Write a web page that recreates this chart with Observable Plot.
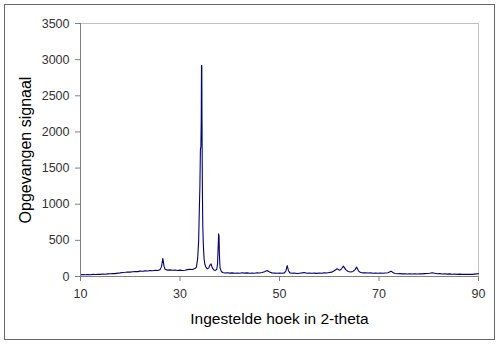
<!DOCTYPE html>
<html>
<head>
<meta charset="utf-8">
<script src="https://cdn.jsdelivr.net/npm/d3@7"></script>
<script src="https://cdn.jsdelivr.net/npm/@observablehq/plot@0.6"></script>
<style>
  html, body { margin: 0; padding: 0; background: #fff; }
  #wrap { position: relative; width: 500px; height: 345px; }
  #border { position: absolute; left: 4px; top: 4px; width: 489px; height: 334px; border: 1px solid #666; pointer-events: none; }
</style>
</head>
<body>
<div id="wrap"><div id="border"></div></div>
<script>
const twoTheta = [
  10.0,10.5,11.0,11.5,12.0,12.5,13.0,13.5,14.0,14.5,15.0,15.5,16.0,16.5,17.0,17.5,18.0,18.5,19.0,19.5,
  20.0,20.5,21.0,21.5,22.0,22.5,23.0,23.5,24.0,24.5,25.0,25.5,26.0,26.3,26.55,26.8,27.0,27.5,28.0,28.5,
  29.0,29.5,30.0,30.5,31.0,31.5,32.0,32.5,33.0,33.3,33.55,33.75,33.85,34.0,34.1,34.2,34.27,34.32,34.38,34.42,
  34.5,34.58,34.7,34.85,35.0,35.2,35.5,35.8,36.0,36.25,36.5,36.8,37.1,37.4,37.55,37.68,37.76,37.84,37.92,38.05,
  38.3,38.6,39.0,39.5,40.0,40.5,41.0,41.5,42.0,42.5,43.0,43.5,44.0,44.5,45.0,45.5,46.0,46.5,47.0,47.5,
  48.0,48.5,49.0,49.5,50.0,50.5,51.0,51.3,51.55,51.8,52.1,52.5,53.0,53.5,54.0,54.5,55.0,55.5,56.0,56.5,
  57.0,57.5,58.0,58.5,59.0,59.5,60.0,60.5,61.0,61.6,62.1,62.5,62.85,63.3,63.8,64.3,64.8,65.2,65.5,65.9,
  66.3,66.8,67.3,67.8,68.3,68.8,69.3,69.8,70.3,70.8,71.3,71.8,72.1,72.4,72.8,73.2,73.7,74.2,74.7,75.2,
  75.7,76.2,76.7,77.2,77.7,78.2,78.7,79.2,79.7,80.2,80.7,81.2,81.7,82.2,82.7,83.2,83.7,84.2,84.7,85.2,
  85.7,86.2,86.7,87.2,87.7,88.2,88.7,89.2,89.6,90.0
];
const signal = [
  22,28,24,27,25,30,27,32,29,34,31,36,38,42,40,47,50,55,58,62,
  60,66,70,67,74,72,78,76,82,80,86,84,95,140,250,140,100,88,92,86,
  90,84,88,82,86,95,100,96,110,130,250,500,820,1250,1750,1800,2160,2920,2920,2150,
  1200,700,420,240,170,130,105,120,155,175,120,90,85,100,180,420,590,560,300,120,
  70,55,48,52,47,50,45,49,46,51,47,50,45,48,46,52,49,55,65,82,
  62,50,47,44,48,45,50,80,152,80,50,44,48,42,46,50,55,46,49,44,
  47,43,48,45,50,48,55,60,80,106,85,110,143,95,70,62,70,95,130,75,
  55,50,52,48,50,46,48,45,47,44,48,52,62,74,55,42,38,40,36,38,
  35,37,34,38,35,37,36,40,42,45,52,45,38,40,35,37,33,36,32,34,
  30,33,30,32,29,31,30,33,36,37
];
const xTicks = [10, 30, 50, 70, 90];
const yTicks = [0, 500, 1000, 1500, 2000, 2500, 3000, 3500];
const xLabel = "Ingestelde hoek in 2-theta";
const yLabel = "Opgevangen signaal";

const data = twoTheta.map((t, i) => ({t, s: signal[i]}));
const font = "'Liberation Sans', Arial, sans-serif";

const chart = Plot.plot({
  width: 500,
  height: 345,
  marginLeft: 80,
  marginRight: 22,
  marginTop: 23,
  marginBottom: 69,
  style: {fontFamily: font, background: "transparent"},
  x: {domain: [10, 90]},
  y: {domain: [0, 3500]},
  marks: [
    Plot.ruleY([3500], {stroke: "#c0c0c0", strokeWidth: 1}),
    Plot.ruleX([90], {stroke: "#c0c0c0", strokeWidth: 1}),
    Plot.line(data, {x: "t", y: "s", stroke: "#000080", strokeWidth: 1.1}),
    Plot.ruleX([10], {stroke: "#808080", strokeWidth: 1}),
    Plot.ruleY([0], {stroke: "#808080", strokeWidth: 1}),
    Plot.axisX({ticks: xTicks, tickFormat: d => String(d), tickSize: 5, tickPadding: 8, fontSize: 12.5, color: "#333", stroke: "#808080", label: null}),
    Plot.axisY({ticks: yTicks, tickFormat: d => String(d), tickSize: 5, tickPadding: 6, fontSize: 12.5, color: "#333", stroke: "#808080", label: null}),
    Plot.text([yLabel], {frameAnchor: "left", dx: -55, rotate: -90, textAnchor: "middle", lineAnchor: "middle", fontSize: 16, fill: "#000", fontFamily: font}),
    Plot.text([xLabel], {frameAnchor: "bottom", dy: 43, lineAnchor: "middle", fontSize: 15.5, fill: "#000", fontFamily: font})
  ]
});
document.getElementById("wrap").prepend(chart);
</script>
</body>
</html>
